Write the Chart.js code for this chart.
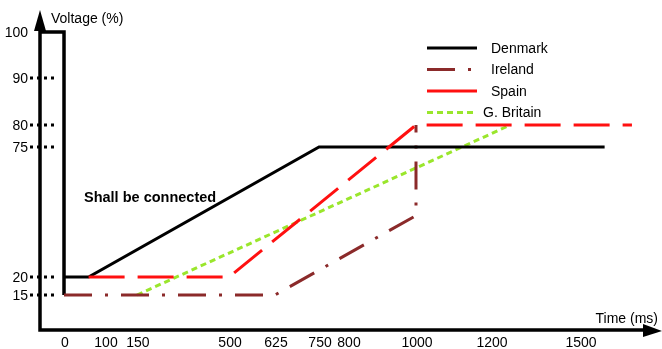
<!DOCTYPE html>
<html>
<head>
<meta charset="utf-8">
<script src="https://cdn.jsdelivr.net/npm/chart.js@4.4.1/dist/chart.umd.min.js"></script>
<style>
  body { margin: 0; background: #fff; }
  canvas { display: block; }
</style>
</head>
<body>
<canvas id="chart" width="662" height="349"></canvas>
<script>
// values (time in ms, voltage in %)
const denmarkTime = [0, 60, 750, 1590];
const denmarkVolt = [20, 20, 75, 75];
const irelandTime = [0, 625, 1000, 1000];
const irelandVolt = [15, 15, 46, 80];
const spainTime = [60, 500, 1000, 1690];
const spainVolt = [20, 20, 80, 80];
const britainTime = [150, 1265];
const britainVolt = [15, 80];
// the "must stay connected" edge at the start: 100% until t=0, then the drop
const edgeTime = [-60, 0, 0];
const edgeVolt = [100, 100, 15];

const xTickLabels = [0, 100, 150, 500, 625, 750, 800, 1000, 1200, 1500];
const yTickLabels = [15, 20, 75, 80, 90, 100];
const yTickMarks = [15, 20, 75, 80, 90];

// the original axes are not linear: value -> fraction of the axis length
const axisKnots = {
  x: [[-60, 0], [0, .0386], [100, .1045], [150, .1559], [500, .3039], [625, .3778],
      [750, .4486], [800, .4952], [1000, .6045], [1200, .7251], [1500, .8682], [1800, 1]],
  y: [[5, 0], [15, .1094], [20, .1656], [75, .5719], [80, .6406], [90, .7875],
      [100, .9313], [105, 1]]
};

function warp(v, knots) {
  let i = 1;
  while (i < knots.length - 1 && v > knots[i][0]) i++;
  const [v0, d0] = knots[i - 1];
  const [v1, d1] = knots[i];
  return d0 + (v - v0) * (d1 - d0) / (v1 - v0);
}

class PiecewiseScale extends Chart.LinearScale {
  static id = 'piecewise';
  static defaults = Chart.LinearScale.defaults;
  getPixelForValue(value) {
    return this.getPixelForDecimal(warp(value, axisKnots[this.id]));
  }
}
Chart.register(PiecewiseScale);

const toPoints = (t, v) => t.map((x, i) => ({ x: x, y: v[i] }));
const FONT = '"Liberation Sans", Arial, sans-serif';

const decor = {
  id: 'decor',
  afterDatasetsDraw(chart) {
    const { ctx, chartArea: a, scales } = chart;
    const xs = scales.x, ys = scales.y;
    ctx.save();

    // axes with arrow heads
    ctx.strokeStyle = '#000';
    ctx.fillStyle = '#000';
    ctx.lineWidth = 3.5;
    ctx.beginPath();
    ctx.moveTo(a.left, a.top + 18);
    ctx.lineTo(a.left, a.bottom);
    ctx.lineTo(a.right - 16, a.bottom);
    ctx.stroke();
    ctx.beginPath();
    ctx.moveTo(a.left, a.top);
    ctx.lineTo(a.left - 6, a.top + 21);
    ctx.lineTo(a.left + 6, a.top + 21);
    ctx.closePath();
    ctx.fill();
    ctx.beginPath();
    ctx.moveTo(a.right, a.bottom + 1);
    ctx.lineTo(a.right - 19, a.bottom - 6);
    ctx.lineTo(a.right - 19, a.bottom + 7);
    ctx.closePath();
    ctx.fill();

    // y ticks: label plus a dotted mark across the axis
    ctx.font = '14px ' + FONT;
    ctx.textAlign = 'right';
    ctx.textBaseline = 'middle';
    yTickLabels.forEach(v => {
      const py = ys.getPixelForValue(v);
      ctx.fillText(String(v), a.left - 12, py + 1);
      if (yTickMarks.includes(v)) {
        ctx.setLineDash([3, 4]);
        ctx.lineWidth = 3;
        ctx.beginPath();
        ctx.moveTo(a.left - 10, py);
        ctx.lineTo(a.left + 17, py);
        ctx.stroke();
        ctx.setLineDash([]);
      }
    });

    // x tick labels
    ctx.textAlign = 'center';
    ctx.textBaseline = 'top';
    xTickLabels.forEach(v => {
      ctx.fillText(String(v), xs.getPixelForValue(v) + 1, a.bottom + 6);
    });

    // axis titles
    ctx.textAlign = 'left';
    ctx.textBaseline = 'middle';
    ctx.fillText('Voltage (%)', a.left + 11, 19);
    ctx.textAlign = 'right';
    ctx.textBaseline = 'alphabetic';
    ctx.fillText('Time (ms)', 658, 323);

    // note inside the plot
    ctx.textAlign = 'left';
    ctx.textBaseline = 'middle';
    ctx.font = 'bold 14.5px ' + FONT;
    ctx.fillText('Shall be connected', 84, 198);

    // legend
    ctx.font = '14px ' + FONT;
    chart.data.datasets.forEach((ds, i) => {
      if (!ds.label) return;
      const ly = 48 + i * 21.5;
      ctx.strokeStyle = ds.borderColor;
      ctx.lineWidth = ds.borderWidth;
      ctx.setLineDash(ds.legendDash || ds.borderDash || []);
      ctx.beginPath();
      ctx.moveTo(427, ly);
      ctx.lineTo(477, ly);
      ctx.stroke();
      ctx.setLineDash([]);
      ctx.fillStyle = '#000';
      ctx.fillText(ds.label, ds.label.length > 8 ? 483 : 491, ly + 1);
    });

    ctx.restore();
  }
};

new Chart(document.getElementById('chart'), {
  type: 'line',
  data: {
    datasets: [
      { label: 'Denmark', data: toPoints(denmarkTime, denmarkVolt),
        borderColor: '#000000', borderWidth: 3, order: 1 },
      { label: 'Ireland', data: toPoints(irelandTime, irelandVolt),
        borderColor: '#8b2a2a', borderWidth: 3, borderDash: [28, 13, 3, 13], order: 2 },
      { label: 'Spain', data: toPoints(spainTime, spainVolt),
        borderColor: '#ff1010', borderWidth: 3, borderDash: [36, 13], legendDash: [], order: 0 },
      { label: 'G. Britain', data: toPoints(britainTime, britainVolt),
        borderColor: '#9ae62c', borderWidth: 3, borderDash: [6, 4], order: 3 },
      { label: '', data: toPoints(edgeTime, edgeVolt),
        borderColor: '#000000', borderWidth: 3.5, order: 4 }
    ]
  },
  options: {
    responsive: false,
    animation: false,
    events: [],
    layout: { padding: { left: 40, top: 10, right: 0, bottom: 19 } },
    elements: { point: { radius: 0 }, line: { tension: 0, fill: false } },
    scales: {
      x: { type: 'piecewise', display: false, min: -60, max: 1800 },
      y: { type: 'piecewise', display: false, min: 5, max: 105 }
    },
    plugins: { legend: { display: false }, tooltip: { enabled: false } }
  },
  plugins: [decor]
});
</script>
</body>
</html>
